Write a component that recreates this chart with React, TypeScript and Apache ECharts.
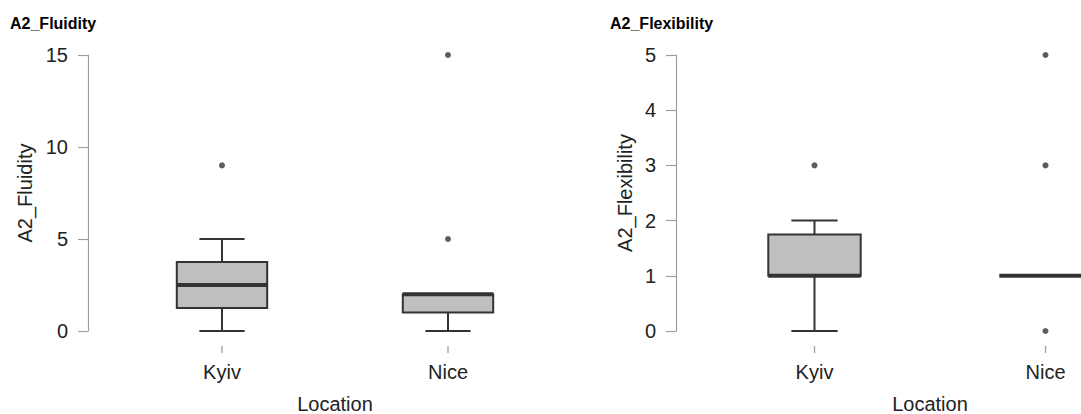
import React, { useEffect, useRef } from "react";
import * as echarts from "echarts";

const categories = ["Kyiv", "Nice"];
// [min, Q1, median, Q3, max] per location
const fluidityBox = [
  [0, 1.25, 2.5, 3.75, 5],
  [0, 1, 2, 2, 2],
];
const fluidityOutliers = [
  [0, 9],
  [1, 5],
  [1, 15],
];
const flexibilityBox = [
  [0, 1, 1, 1.75, 2],
  [1, 1, 1, 1, 1],
];
const flexibilityOutliers = [
  [0, 3],
  [1, 0],
  [1, 3],
  [1, 5],
];
const fluidityTicks = { min: 0, max: 15, interval: 5 };
const flexibilityTicks = { min: 0, max: 5, interval: 1 };

const FONT = "'Liberation Sans', Arial, sans-serif";
const DARK = "#333333";
const AXIS_GRAY = "#9e9e9e";
const X_AXIS_OFFSET = 15;

function boxRenderer(params: any, api: any) {
  const cat = api.value(0);
  const mn = api.value(1);
  const q1 = api.value(2);
  const md = api.value(3);
  const q3 = api.value(4);
  const mx = api.value(5);
  const band = api.size([1, 0])[0];
  const bw = band * 0.4;
  const cw = bw * 0.5;
  const pMin = api.coord([cat, mn]);
  const pQ1 = api.coord([cat, q1]);
  const pMd = api.coord([cat, md]);
  const pQ3 = api.coord([cat, q3]);
  const pMax = api.coord([cat, mx]);
  const x = pMd[0];
  const lineStyle = { stroke: DARK, lineWidth: 2 };
  const children: any[] = [];
  // category tick below the (offset) x axis
  const cs = params.coordSys;
  const axisY = cs.y + cs.height + X_AXIS_OFFSET;
  children.push({
    type: "line",
    shape: { x1: x, y1: axisY, x2: x, y2: axisY + 7 },
    style: { stroke: AXIS_GRAY, lineWidth: 1.3 },
  });
  if (mx > q3) {
    children.push({ type: "line", shape: { x1: x, y1: pMax[1], x2: x, y2: pQ3[1] }, style: lineStyle });
    children.push({ type: "line", shape: { x1: x - cw / 2, y1: pMax[1], x2: x + cw / 2, y2: pMax[1] }, style: lineStyle });
  }
  if (mn < q1) {
    children.push({ type: "line", shape: { x1: x, y1: pMin[1], x2: x, y2: pQ1[1] }, style: lineStyle });
    children.push({ type: "line", shape: { x1: x - cw / 2, y1: pMin[1], x2: x + cw / 2, y2: pMin[1] }, style: lineStyle });
  }
  if (q3 > q1) {
    children.push({
      type: "rect",
      shape: { x: x - bw / 2, y: pQ3[1], width: bw, height: pQ1[1] - pQ3[1] },
      style: { fill: "#bfbfbf", stroke: DARK, lineWidth: 2 },
    });
  }
  children.push({
    type: "line",
    shape: { x1: x - bw / 2, y1: pMd[1], x2: x + bw / 2, y2: pMd[1] },
    style: { stroke: DARK, lineWidth: 4 },
  });
  return { type: "group", children };
}

function yAxisOpt(gridIndex: number, name: string, t: any, offset: number, nameGap: number) {
  return {
    type: "value",
    gridIndex,
    min: t.min,
    max: t.max,
    interval: t.interval,
    offset,
    name,
    nameLocation: "middle",
    nameGap,
    nameTextStyle: { fontSize: 20, color: "#222", fontFamily: FONT },
    axisLine: { show: true, lineStyle: { color: AXIS_GRAY, width: 1.2 } },
    axisTick: { show: true, length: 10, lineStyle: { color: AXIS_GRAY, width: 1.2 } },
    axisLabel: { fontSize: 20, color: "#222", fontFamily: FONT, margin: 20 },
    splitLine: { show: false },
  };
}

function xAxisOpt(gridIndex: number) {
  return {
    type: "category",
    gridIndex,
    data: categories,
    offset: X_AXIS_OFFSET,
    name: "Location",
    nameLocation: "middle",
    nameGap: 48,
    nameTextStyle: { fontSize: 20, color: "#222", fontFamily: FONT },
    axisLine: { show: false },
    axisTick: { show: false },
    axisLabel: { fontSize: 20, color: "#222", fontFamily: FONT, margin: 16 },
    splitLine: { show: false },
  };
}

export default function App() {
  const ref = useRef<HTMLDivElement>(null);
  useEffect(() => {
    document.body.style.margin = "0";
    const chart = echarts.init(ref.current!, null, { renderer: "svg" });
    const boxSeries = (data: number[][], idx: number) => ({
      type: "custom",
      xAxisIndex: idx,
      yAxisIndex: idx,
      renderItem: boxRenderer,
      clip: false,
      encode: { x: 0, y: [1, 2, 3, 4, 5] },
      data: data.map((d, i) => [i, ...d]),
    });
    const outlierSeries = (data: number[][], idx: number) => ({
      type: "scatter",
      xAxisIndex: idx,
      yAxisIndex: idx,
      symbol: "circle",
      symbolSize: 6,
      itemStyle: { color: DARK },
      data,
    });
    const titleStyle = { fontSize: 16, fontWeight: "bold", color: "#000", fontFamily: FONT };
    chart.setOption({
      animation: false,
      backgroundColor: "#ffffff",
      textStyle: { fontFamily: FONT },
      title: [
        { text: "A2_Fluidity", left: 10, top: 15, padding: 0, textStyle: titleStyle },
        { text: "A2_Flexibility", left: 610, top: 15, padding: 0, textStyle: titleStyle },
      ],
      grid: [
        { left: 109, top: 55, width: 452, height: 276, outerBoundsMode: "none", containLabel: false },
        { left: 699, top: 55, width: 462, height: 276, outerBoundsMode: "none", containLabel: false },
      ],
      xAxis: [xAxisOpt(0), xAxisOpt(1)],
      yAxis: [
        yAxisOpt(0, "A2_Fluidity", fluidityTicks, 21, 53),
        yAxisOpt(1, "A2_Flexibility", flexibilityTicks, 23, 41),
      ],
      series: [
        boxSeries(fluidityBox, 0),
        outlierSeries(fluidityOutliers, 0),
        boxSeries(flexibilityBox, 1),
        outlierSeries(flexibilityOutliers, 1),
      ],
    });
    return () => chart.dispose();
  }, []);
  return <div ref={ref} style={{ width: 1081, height: 414 }} />;
}
